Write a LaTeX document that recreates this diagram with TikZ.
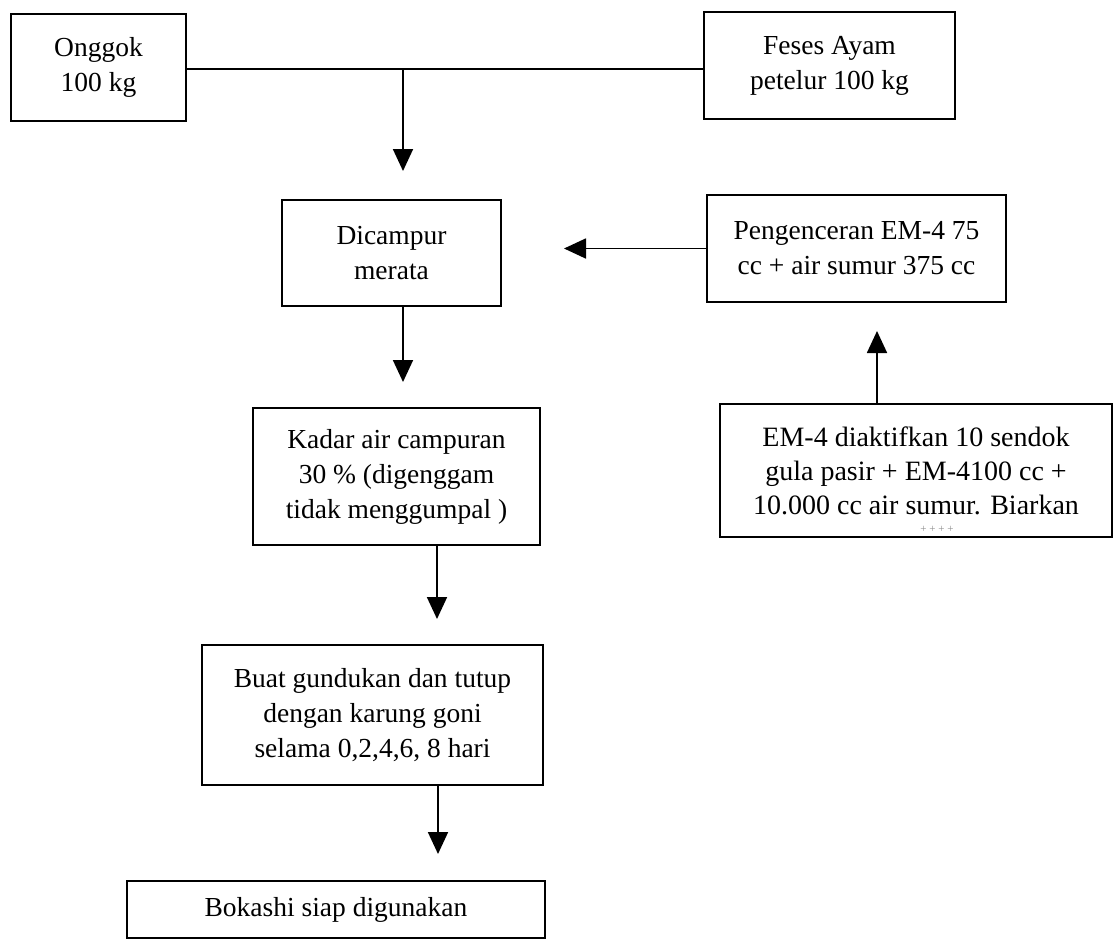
\documentclass[tikz,border=0pt]{standalone}
\usepackage{fontspec}
\setmainfont{Liberation Serif}
\usetikzlibrary{arrows.meta}
\begin{document}
\begin{tikzpicture}[x=1pt,y=-1pt,
  box/.style={draw, line width=2pt, align=center, inner sep=0pt,
    font=\fontsize{27.5}{35}\selectfont},
  conn/.style={line width=1.8pt},
  arr/.style={line width=1.8pt, -{Triangle[length=22pt,width=20pt]}}]
\useasboundingbox (0,0) rectangle (1116,946);
\node[box, minimum width=175, minimum height=107] (ongg) at (98.5,67.5) {Onggok\\100 kg};
\node[box, minimum width=251, minimum height=107] (feses) at (829.5,65.5) {Feses Ayam\\petelur 100 kg};
\node[box, minimum width=219, minimum height=106] (camp) at (391.5,253) {Dicampur\\merata};
\node[box, minimum width=299, minimum height=107] (peng) at (856.5,248.5) {Pengenceran EM-4 75\\cc + air sumur 375 cc};
\node[box, minimum width=287, minimum height=137] (kadar) at (396.5,476.5) {Kadar air campuran\\30 \% (digenggam\\tidak menggumpal )};
\node[box, minimum width=392, minimum height=133, font=\fontsize{28}{34}\selectfont] (em) at (916,470.5) {EM-4 diaktifkan 10 sendok\\gula pasir + EM-4100 cc +\\10.000 cc air sumur. Biarkan};
\node[text=black!45, font=\fontsize{11}{11}\selectfont, inner sep=0pt] (emdots) at (937,529) {+ + + +};
\node[box, minimum width=341, minimum height=140] (buat) at (372.5,715) {Buat gundukan dan tutup\\dengan karung goni\\selama 0,2,4,6, 8 hari};
\node[box, minimum width=418, minimum height=57] (boka) at (336,909.5) {Bokashi siap digunakan};
\coordinate (J) at (403,69);
\draw[conn] (J -| ongg.east) -- (J -| feses.west);
\draw[arr, shorten >=28pt] (J) -- (J |- camp.north);
\draw[arr, shorten >=62pt] (peng.west) -- (peng.west -| camp.east);
\draw[arr, shorten >=25pt] ([xshift=11.5pt]camp.south) -- ([xshift=11.5pt]camp.south |- kadar.north);
\draw[arr, shorten >=28pt] ([xshift=-39pt]em.north) -- ([xshift=-39pt]em.north |- peng.south);
\draw[arr, shorten >=25pt] ([xshift=40.5pt]kadar.south) -- ([xshift=40.5pt]kadar.south |- buat.north);
\draw[arr, shorten >=26pt] ([xshift=65.5pt]buat.south) -- ([xshift=65.5pt]buat.south |- boka.north);
\end{tikzpicture}
\end{document}
